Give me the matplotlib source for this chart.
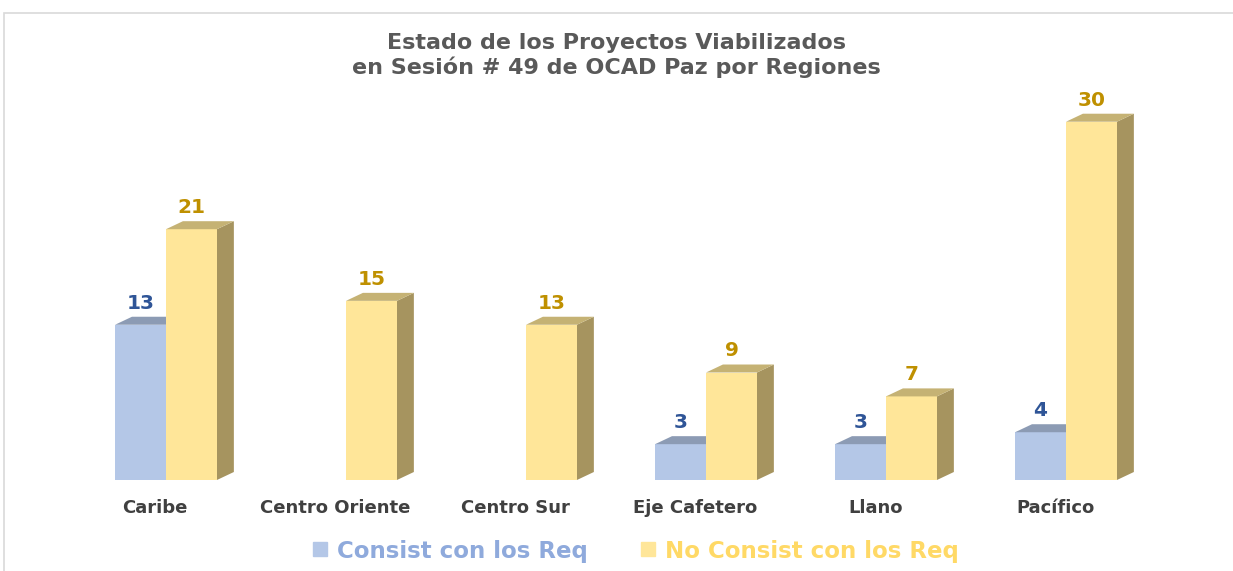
import matplotlib
matplotlib.use("Agg")
import matplotlib.pyplot as plt
from matplotlib.patches import Polygon, Rectangle
from matplotlib.lines import Line2D

regiones = ["Caribe", "Centro Oriente", "Centro Sur", "Eje Cafetero", "Llano", "Pacífico"]
consist = [13, 0, 0, 3, 3, 4]
no_consist = [21, 15, 13, 9, 7, 30]
series_names = ["Consist con los Req", "No Consist con los Req"]

# colours (front, top, side, label)
BLUE = ("#b4c7e7", "#8c9bb4", "#7f8ca3", "#2f5597")
GOLD = ("#ffe699", "#c5b274", "#a6945f", "#bf9000")
LEG_BLUE = "#8faadc"
LEG_GOLD = "#ffd966"
TXT = "#404040"
FONT = "DejaVu Sans"

W = 0.283     # bar width (group units)
DX = 0.094    # depth offset x
DY = 0.67     # depth offset y (data units)

fig = plt.figure(figsize=(12.33, 5.71), dpi=100)
ax = fig.add_axes([76 / 1233, 91 / 571, 1080 / 1233, 418 / 571])
ax.set_xlim(-0.5, 5.5)
ax.set_ylim(0, 35)
ax.axis("off")

# outer frame (top + left edges visible)
fig.patches.append(Rectangle((4 / 1233, -0.1), 1.2, (571 - 13) / 571 + 0.1,
                             transform=fig.transFigure, fill=False,
                             edgecolor="#d9d9d9", linewidth=1.2))


def bar3d(x0, h, cols, z):
    front, top, side, lab = cols
    ax.bar(x0, h, width=W, align="edge", color=front, zorder=z)
    ax.add_patch(Polygon([(x0, h), (x0 + W, h), (x0 + W + DX, h + DY), (x0 + DX, h + DY)],
                         closed=True, facecolor=top, edgecolor="none", zorder=z))
    ax.add_patch(Polygon([(x0 + W, 0), (x0 + W + DX, DY), (x0 + W + DX, h + DY), (x0 + W, h)],
                         closed=True, facecolor=side, edgecolor="none", zorder=z - 0.5))
    ax.annotate(str(h), (x0 + W / 2, h + DY), xytext=(0, 3),
                textcoords="offset points", ha="center", va="bottom",
                fontsize=14.5, fontweight="bold", color=lab, family=FONT)


for i, (c, n) in enumerate(zip(consist, no_consist)):
    if c > 0:
        bar3d(i - W, c, BLUE, 2)
    if n > 0:
        bar3d(i, n, GOLD, 4)

for i, name in enumerate(regiones):
    ax.text(i - 0.06, -2.35, name, ha="center", va="center", fontsize=13,
            fontweight="bold", color=TXT, family=FONT)

fig.text(0.5, 0.903, "Estado de los Proyectos Viabilizados\nen Sesión # 49 de OCAD Paz por Regiones",
         ha="center", va="center", fontsize=16, fontweight="bold", color="#595959",
         family=FONT, linespacing=1.2)

handles = [Line2D([], [], marker="s", linestyle="none", markersize=10, color=BLUE[0]),
           Line2D([], [], marker="s", linestyle="none", markersize=10, color=GOLD[0])]
leg = fig.legend(handles, series_names, loc="center", bbox_to_anchor=(0.513, 0.035), ncol=2,
                 frameon=False, handletextpad=0.15, columnspacing=2.0, handlelength=1.2,
                 prop={"family": FONT, "weight": "bold", "size": 16.5},
                 labelcolor=[LEG_BLUE, LEG_GOLD])

fig.savefig("out.png", dpi=100, facecolor="white")
